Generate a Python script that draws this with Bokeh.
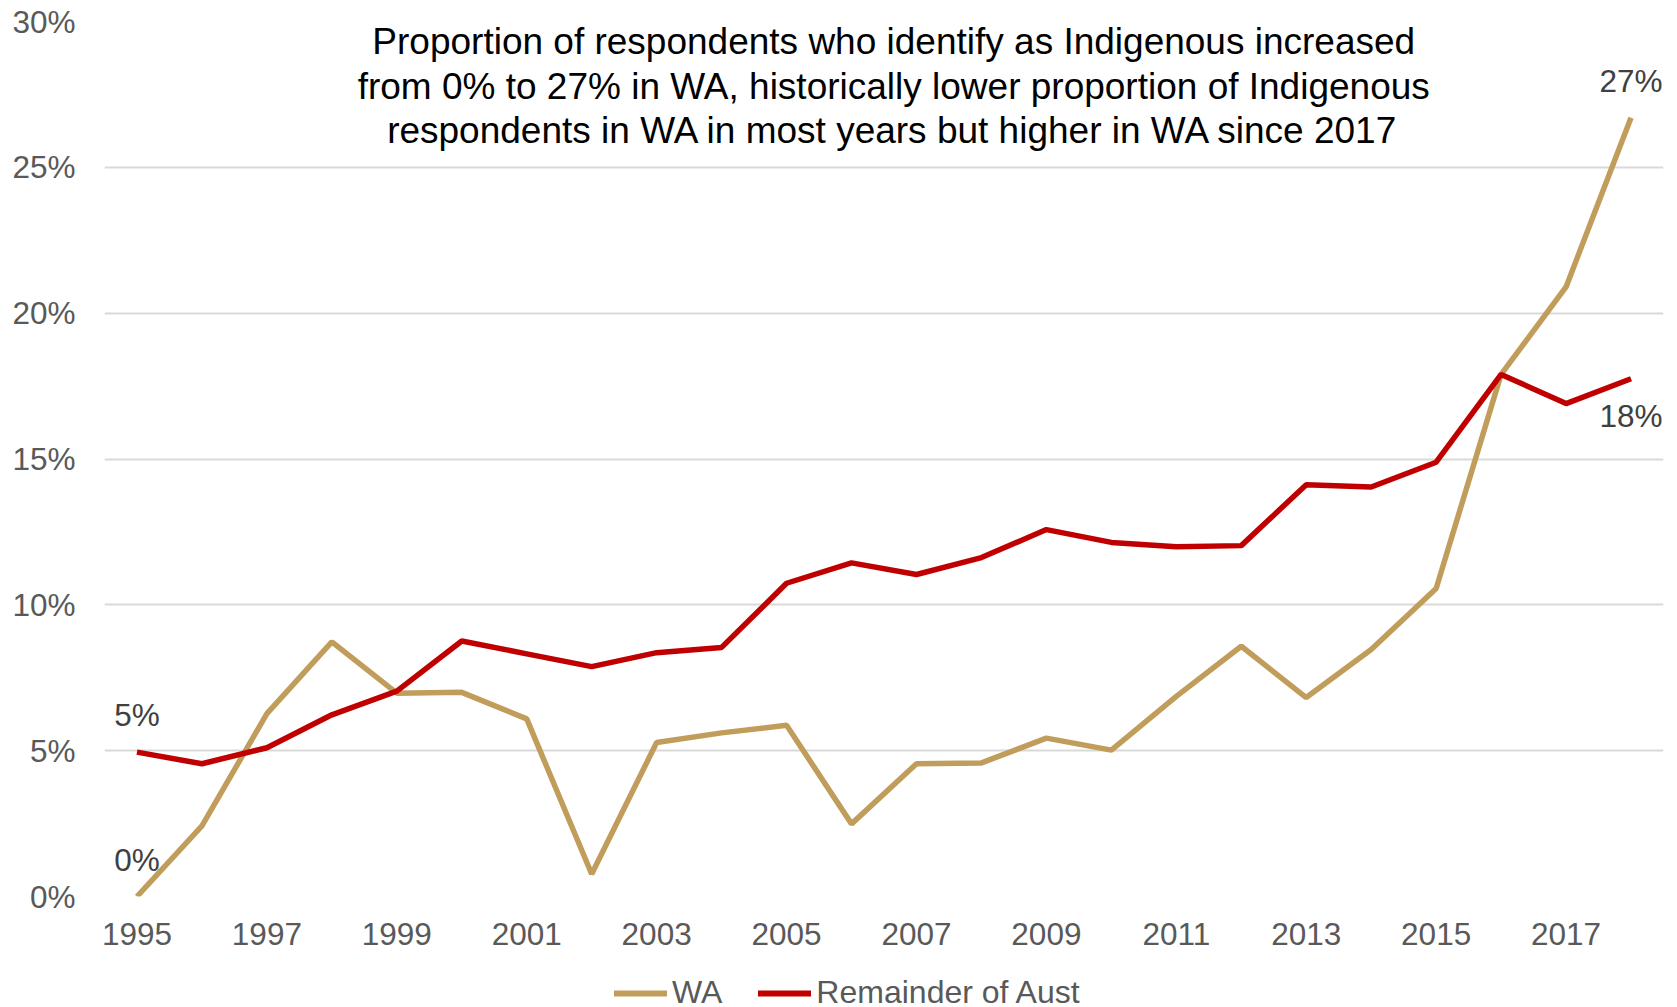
from bokeh.plotting import figure
from bokeh.layouts import column
from bokeh.models import Range1d, FixedTicker, Legend, LegendItem, Label, ColumnDataSource, LabelSet, CustomJSTickFormatter
from bokeh.core.properties import value
from bokeh.embed import file_html
from bokeh.resources import INLINE

years = list(range(1995, 2019))
wa = [0.0, 2.42, 6.27, 8.73, 6.97, 7.0, 6.09, 0.77, 5.28, 5.61, 5.87, 2.49,
      4.55, 4.58, 5.43, 5.02, 6.86, 8.58, 6.82, 8.47, 10.56, 17.9, 20.9, 26.7]
rest = [4.95, 4.55, 5.1, 6.23, 7.04, 8.76, 8.32, 7.88, 8.36, 8.54, 10.74, 11.44,
        11.04, 11.62, 12.58, 12.14, 11.99, 12.03, 14.12, 14.04, 14.89, 17.9, 16.9, 17.75]
series_names = ["WA", "Remainder of Aust"]
y_ticks = [0, 5, 10, 15, 20, 25, 30]
x_ticks = list(range(1995, 2018, 2))
title_lines = [
    "Proportion of respondents who identify as Indigenous increased",
    "from 0% to 27% in WA, historically lower proportion of Indigenous",
    "respondents in WA in most years but higher in WA since 2017",
]

FONT = "Liberation Sans"
WA_COL = "#C19D5C"
RED_COL = "#C00000"
FS = "31.5px"

p = figure(width=1677, height=960, output_backend="svg", toolbar_location=None,
           x_range=Range1d(1994.5, 2018.5), y_range=Range1d(0, 30),
           min_border_left=104, min_border_right=14, min_border_top=21, min_border_bottom=64)
p.outline_line_color = None
p.background_fill_color = "white"
p.border_fill_color = "white"

p.xgrid.grid_line_color = None
p.ygrid.grid_line_color = "#D9D9D9"
p.ygrid.grid_line_width = 2
p.ygrid.ticker = FixedTicker(ticks=y_ticks)

p.yaxis.ticker = FixedTicker(ticks=y_ticks)
p.yaxis.formatter = CustomJSTickFormatter(code="return tick.toFixed(0) + '%';")
p.yaxis.axis_line_color = None
p.yaxis.major_tick_line_color = None
p.yaxis.minor_tick_line_color = None
p.yaxis.major_label_text_font = FONT
p.yaxis.major_label_text_font_size = FS
p.yaxis.major_label_text_color = "#595959"
p.yaxis.major_label_standoff = 23

p.xaxis.ticker = FixedTicker(ticks=x_ticks)
p.xaxis.axis_line_color = None
p.xaxis.major_tick_line_color = None
p.xaxis.minor_tick_line_color = None
p.xaxis.major_label_text_font = FONT
p.xaxis.major_label_text_font_size = FS
p.xaxis.major_label_text_color = "#595959"
p.xaxis.major_label_standoff = 20

p.line(years, wa, line_color=WA_COL, line_width=5.5)
p.line(years, rest, line_color=RED_COL, line_width=5.5)

# data labels
lab_src = ColumnDataSource(dict(
    x=[years[-1], years[-1], years[0], years[0]],
    y=[wa[-1], rest[-1], rest[0], wa[0]],
    t=[f"{round(wa[-1])}%", f"{round(rest[-1])}%", f"{round(rest[0])}%", f"{round(wa[0])}%"],
    off=[37, -37, 37, 37],
))
p.add_layout(LabelSet(x="x", y="y", text="t", source=lab_src, y_offset="off",
                      text_align="center", text_baseline="middle",
                      text_font=value(FONT), text_font_size=value(FS), text_color="#404040"))

# title
title_y = [29.31, 27.77, 26.26]
for line, ty in zip(title_lines, title_y):
    p.add_layout(Label(x=2006.65, y=ty, text=line, text_align="center", text_baseline="middle",
                       text_font=FONT, text_font_size="37px", text_color="#000000"))

# legend strip (separate figure so the legend is not clipped by the chart frame)
p2 = figure(width=1677, height=47, output_backend="svg", toolbar_location=None,
            x_range=Range1d(0, 1), y_range=Range1d(-100, -99),
            x_axis_location=None, y_axis_location=None,
            min_border=0, min_border_left=0, min_border_right=0, min_border_top=0, min_border_bottom=0)
p2.grid.visible = False
p2.outline_line_color = None
p2.background_fill_color = "white"
p2.border_fill_color = "white"
# same series drawn outside this strip's visible range: only their legend swatches show
l1 = p2.line(years, wa, line_color=WA_COL, line_width=6, line_cap="round")
l2 = p2.line(years, rest, line_color=RED_COL, line_width=6, line_cap="round")
legend = Legend(items=[LegendItem(label=series_names[0], renderers=[l1]),
                       LegendItem(label=series_names[1], renderers=[l2])],
                orientation="horizontal", location=(510, -4),
                glyph_width=53, glyph_height=20, label_height=20, label_standoff=5, spacing=36,
                label_text_font=FONT, label_text_font_size="32px", label_text_color="#595959",
                background_fill_alpha=0, border_line_color=None, padding=0, margin=0)
p2.add_layout(legend)

layout = column(p, p2, spacing=0)
open("out.html", "w").write(file_html(layout, INLINE))
